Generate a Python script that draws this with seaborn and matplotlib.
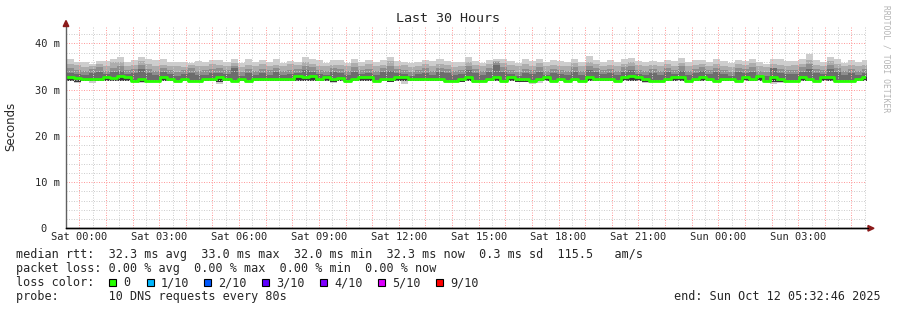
import numpy as np
import pandas as pd
import matplotlib
matplotlib.use("Agg")
import matplotlib.pyplot as plt
import seaborn as sns
from matplotlib.patches import Rectangle, Polygon
from matplotlib.lines import Line2D

# ---------------- data (ms) ----------------
# one value per 16-minute bin, starting Fri 23:32:46 (hours relative to Sat 00:00)
median_rtt = [
    32.7, 32.6, 32.3, 32.3, 32.3, 32.7, 32.4, 32.9, 32.7, 31.95, 32.3, 31.95, 31.95, 32.7, 32.3, 31.95, 32.3, 31.95, 31.95, 32.3,
    32.3, 32.7, 32.3, 31.95, 32.3, 31.95, 32.3, 32.3, 32.3, 32.3, 32.3, 32.35, 32.9, 32.75, 32.9, 32.3, 32.7, 32.3,
    32.5, 31.95, 32.3, 32.7, 32.7, 31.95, 32.3, 32.3, 32.75, 32.75, 32.3, 32.3, 32.3, 32.3, 32.3, 31.95, 31.95, 32.3, 32.7, 31.95,
    31.95, 32.3, 32.7, 31.95, 32.7, 32.3, 32.3, 31.95, 32.3, 32.7, 31.95, 32.3, 31.95, 32.3, 31.95, 32.7, 32.3, 32.3,
    32.3, 31.95, 32.7, 32.9, 32.7, 32.3, 31.95, 31.95, 32.3, 32.7, 32.7, 31.95, 32.3, 32.7, 32.3, 31.95, 32.3, 32.3, 31.95, 32.7,
    32.3, 33.0, 31.95, 32.7, 32.3, 31.95, 31.95, 32.7, 32.3, 31.95, 32.7, 32.7, 31.95, 31.95, 31.95, 32.3, 32.7,
]
ping_max = [
    36.6, 36.0, 36.0, 35.6, 36.2, 36.2, 36.6, 37.0, 36.0, 36.4, 37.1, 36.5, 36.3, 36.6, 36.0, 35.9, 35.9, 35.7, 36.2, 35.9,
    36.3, 36.4, 36.0, 36.6, 35.8, 36.5, 35.9, 36.3, 35.9, 36.5, 35.8, 36.2, 36.0, 37.1, 36.5, 36.3, 35.8, 36.4,
    36.3, 35.7, 36.7, 35.9, 36.4, 36.0, 36.3, 37.0, 36.2, 36.0, 35.7, 35.9, 36.3, 36.1, 36.5, 36.2, 35.9, 36.0, 37.0, 36.2,
    35.8, 36.4, 36.6, 36.6, 36.1, 35.8, 36.5, 36.2, 36.5, 35.9, 36.3, 36.1, 36.0, 36.6, 35.9, 37.2, 36.4, 36.0,
    36.3, 36.0, 36.6, 36.9, 36.1, 35.9, 36.2, 36.0, 36.4, 36.1, 36.9, 35.9, 36.3, 36.4, 36.0, 36.5, 36.1, 35.8, 36.4, 36.2,
    36.6, 36.0, 35.6, 36.5, 36.5, 36.1, 36.2, 36.6, 37.7, 36.3, 36.0, 37.0, 36.5, 35.8, 36.3, 36.0, 36.3,
]
ping_9 = [
    35.5, 35.3, 34.9, 35.0, 35.6, 35.2, 35.9, 36.0, 35.1, 35.4, 36.2, 35.6, 35.0, 35.3, 35.2, 35.0, 34.9, 35.4, 35.1, 35.0,
    35.5, 35.3, 35.2, 35.8, 34.9, 35.3, 35.0, 35.6, 35.1, 35.4, 35.0, 35.5, 35.3, 36.0, 35.6, 35.2, 35.0, 35.4,
    35.3, 35.0, 35.7, 35.1, 35.5, 35.0, 35.4, 36.1, 35.2, 35.4, 34.9, 35.1, 35.5, 35.0, 35.6, 35.3, 34.9, 35.2, 36.0, 35.4,
    35.0, 35.5, 36.2, 35.8, 35.3, 35.0, 35.6, 35.1, 35.7, 35.0, 35.4, 35.2, 35.1, 35.7, 35.0, 36.0, 35.5, 35.1,
    35.4, 35.1, 35.6, 35.9, 35.3, 35.0, 35.4, 35.1, 35.5, 35.2, 35.8, 35.0, 35.4, 35.6, 35.1, 35.6, 35.2, 34.9, 35.5, 35.3,
    35.7, 35.1, 34.8, 35.6, 35.4, 35.2, 35.3, 35.6, 36.4, 35.4, 35.1, 36.1, 35.6, 35.0, 35.3, 35.1, 35.4,
]
ping_8 = [
    34.6, 34.2, 34.0, 34.4, 34.8, 34.1, 34.6, 35.2, 34.3, 34.5, 35.3, 34.4, 34.1, 34.6, 34.3, 33.9, 34.2, 34.6, 34.0, 34.2,
    34.5, 34.6, 34.3, 35.0, 33.9, 34.5, 34.0, 34.4, 34.2, 34.7, 34.1, 34.3, 34.5, 35.1, 34.8, 34.2, 34.0, 34.6,
    34.5, 34.0, 34.9, 34.2, 34.4, 34.0, 34.6, 35.0, 34.5, 34.2, 33.8, 34.2, 34.6, 34.1, 34.7, 34.4, 34.0, 34.3, 35.1, 34.5,
    34.1, 34.6, 35.9, 34.8, 34.2, 33.9, 34.5, 34.2, 34.8, 34.0, 34.4, 34.3, 34.1, 34.8, 34.1, 35.0, 34.6, 34.2,
    34.5, 34.0, 34.8, 35.1, 34.3, 34.1, 34.5, 34.0, 34.6, 34.3, 35.0, 34.0, 34.4, 34.9, 34.2, 34.6, 34.3, 33.9, 34.6, 34.4,
    34.8, 34.1, 33.8, 34.7, 34.5, 34.2, 34.3, 34.8, 35.6, 34.5, 34.2, 35.3, 34.6, 34.0, 34.4, 34.1, 34.5,
]
ping_7 = [
    33.6, 33.4, 33.1, 33.5, 33.7, 33.3, 33.9, 34.0, 33.4, 33.6, 34.4, 33.5, 33.2, 33.7, 33.3, 33.0, 33.4, 33.6, 33.1, 33.2,
    33.5, 33.6, 33.4, 34.6, 33.0, 33.6, 33.1, 33.5, 33.2, 33.8, 33.2, 33.4, 33.6, 34.2, 33.9, 33.3, 33.2, 33.7,
    33.5, 33.1, 33.9, 33.3, 33.6, 33.1, 33.7, 34.1, 33.6, 33.3, 32.9, 33.3, 33.6, 33.2, 33.8, 33.5, 33.1, 33.4, 34.3, 33.6,
    33.2, 33.7, 35.4, 33.9, 33.3, 33.0, 33.6, 33.3, 33.9, 33.1, 33.5, 33.4, 33.2, 33.9, 33.2, 34.2, 33.7, 33.3,
    33.6, 33.1, 33.9, 34.2, 33.4, 33.2, 33.6, 33.1, 33.7, 33.4, 34.1, 33.1, 33.5, 34.0, 33.3, 33.7, 33.4, 33.0, 33.7, 33.5,
    33.9, 33.2, 32.9, 34.6, 33.6, 33.3, 33.4, 33.9, 34.5, 33.6, 33.3, 34.4, 33.7, 33.1, 33.5, 33.2, 33.6,
]
ping_2 = [
    31.8, 31.7, 31.75, 31.8, 31.8, 31.8, 31.75, 31.8, 31.8, 31.75, 31.7, 31.8, 31.8, 31.8, 31.75, 31.8, 31.8, 31.75, 31.8, 31.8,
    31.8, 31.6, 31.8, 31.75, 31.8, 31.8, 31.8, 31.75, 31.8, 31.8, 31.8, 31.75, 31.8, 31.8, 31.75, 31.8, 31.8, 31.7,
    31.8, 31.75, 31.8, 31.8, 31.8, 31.75, 31.8, 31.7, 31.8, 31.8, 31.75, 31.8, 31.8, 31.8, 31.75, 31.8, 31.8, 31.7, 31.8, 31.8,
    31.75, 31.8, 31.8, 31.8, 31.75, 31.7, 31.7, 31.8, 31.8, 31.75, 31.8, 31.8, 31.8, 31.75, 31.8, 31.8, 31.8, 31.75,
    31.8, 31.8, 31.75, 31.8, 31.8, 31.7, 31.8, 31.8, 31.75, 31.8, 31.8, 31.8, 31.75, 31.8, 31.8, 31.8, 31.75, 31.8, 31.8, 31.8,
    31.75, 31.8, 31.8, 31.6, 31.7, 31.8, 31.8, 31.75, 31.8, 31.8, 31.8, 31.75, 31.8, 31.8, 31.8, 31.75, 31.8,
]
ping_min = [
    31.75, 31.4, 31.75, 31.5, 31.75, 31.75, 31.75, 31.75, 31.75, 31.75, 31.5, 31.75, 31.75, 31.75, 31.75, 31.75, 31.75, 31.75, 31.75, 31.75,
    31.75, 31.2, 31.75, 31.75, 31.75, 31.75, 31.75, 31.75, 31.75, 31.75, 31.75, 31.75, 31.75, 31.75, 31.75, 31.75, 31.75, 31.5,
    31.75, 31.75, 31.75, 31.75, 31.75, 31.75, 31.75, 31.75, 31.75, 31.3, 31.75, 31.75, 31.75, 31.75, 31.75, 31.75, 31.75, 31.75, 31.75, 31.4,
    31.75, 31.75, 31.75, 31.75, 31.75, 31.75, 31.75, 31.3, 31.5, 31.75, 31.75, 31.75, 31.75, 31.75, 31.75, 31.75, 31.75, 31.75,
    31.75, 31.75, 31.75, 31.75, 31.75, 31.5, 31.75, 31.75, 31.75, 31.75, 31.75, 31.75, 31.75, 31.75, 31.75, 31.75, 31.75, 31.75, 31.75, 31.75,
    31.75, 31.75, 31.75, 31.2, 31.5, 31.75, 31.75, 31.75, 31.75, 31.75, 31.75, 31.75, 31.75, 31.75, 31.75, 31.75, 31.75,
]

start_hour = -(27 * 60 + 14) / 3600.0      # Fri 23:32:46
end_hour = start_hour + 30.0               # Sun 05:32:46
bin_minutes = 16
tick_hours = [0, 3, 6, 9, 12, 15, 18, 21, 24, 27]
tick_labels = ["Sat 00:00", "Sat 03:00", "Sat 06:00", "Sat 09:00", "Sat 12:00",
               "Sat 15:00", "Sat 18:00", "Sat 21:00", "Sun 00:00", "Sun 03:00"]
y_ticks = [0, 10, 20, 30, 40]
y_labels = ["0  ", "10 m", "20 m", "30 m", "40 m"]

loss_labels = ["0", "1/10", "2/10", "3/10", "4/10", "5/10", "9/10"]
loss_colors = ["#26ff00", "#00b8ff", "#0059ff", "#5e00ff", "#7e00ff", "#dd00ff", "#ff0000"]

# ---------------- figure ----------------
sns.set_theme(style="white")
plt.rcParams["font.family"] = ["DejaVu Sans Mono", "DejaVu Sans"]

W, H = 897, 310
fig = plt.figure(figsize=(W / 100, H / 100), dpi=100)
fig.patch.set_facecolor("white")
ax_bottom = 228.3
ax_top = 26.5
ax = fig.add_axes([66 / W, (H - ax_bottom) / H, 800 / W, (ax_bottom - ax_top) / H])
ax.set_facecolor("white")

n = len(median_rtt)
t = [start_hour + i * bin_minutes / 60.0 for i in range(n)]
t_ext = t + [t[-1] + bin_minutes / 60.0]

def ext(a):
    return list(a) + [a[-1]]

layers = [
    (ping_min, ping_max, "#cdcdcd"),
    (ping_2, ping_9, "#adadad"),
    (ping_2, ping_8, "#8e8e8e"),
    (ping_2, ping_7, "#6c6c6c"),
    (ping_2, median_rtt, "#3a3a3a"),
]
for lo, hi, col in layers:
    ax.fill_between(t_ext, ext(lo), ext(hi), step="post", color=col, lw=0, zorder=1)

df = pd.DataFrame({"time": t_ext, "median": ext(median_rtt)})
sns.lineplot(data=df, x="time", y="median", drawstyle="steps-post",
             color="#26ff00", lw=2.0, ax=ax, zorder=4)

ax.set_xlim(start_hour, end_hour)
ax.set_ylim(0, (ax_bottom - ax_top) / 4.625)

# grid
major_x = list(range(0, 30))
minor_x = [h + 0.5 for h in range(-1, 30)]
ax.set_xticks(major_x)
ax.set_xticklabels([tick_labels[tick_hours.index(h)] if h in tick_hours else "" for h in major_x])
ax.set_xticks(minor_x, minor=True)
ax.set_yticks(y_ticks)
ax.set_yticklabels(y_labels)
ax.set_yticks([v for v in range(2, 44, 2) if v % 10 != 0], minor=True)
ax.tick_params(which="both", length=0)
ax.tick_params(axis="x", pad=3, labelsize=7.5)
ax.tick_params(axis="y", pad=4.3, labelsize=7.5)
ax.set_axisbelow(False)
ax.grid(which="major", color="#ff9c9c", lw=0.72, linestyle=(0, (1, 1.5)))
ax.grid(which="minor", color="#cfcfcf", lw=0.72, linestyle=(0, (1, 1.5)))
for gl in ax.get_xgridlines() + ax.get_ygridlines():
    gl.set_zorder(3)
ax.set_xlabel("")
ax.set_ylabel("")

for s in ["top", "right"]:
    ax.spines[s].set_visible(False)
ax.spines["left"].set_color("#606060")
ax.spines["left"].set_linewidth(1.0)
ax.spines["bottom"].set_color("#000000")
ax.spines["bottom"].set_linewidth(1.0)
for s in ["left", "bottom"]:
    ax.spines[s].set_zorder(5)

def px(x, y):
    return (x / W, 1 - y / H)

arrow_col = "#8b1a1a"
fig.add_artist(Line2D([66 / W, 868 / W], [1 - ax_bottom / H] * 2, color="black", lw=1.0))
fig.add_artist(Polygon([px(66, 20.5), px(63.2, 26.5), px(68.8, 26.5)], closed=True,
                       color=arrow_col, transform=fig.transFigure))
fig.add_artist(Polygon([px(874, ax_bottom), px(868, ax_bottom - 2.8), px(868, ax_bottom + 2.8)],
                       closed=True, color=arrow_col, transform=fig.transFigure))

# titles
fig.text(448 / W, 1 - 19 / H, "Last 30 Hours", ha="center", va="center", fontsize=9.6)
fig.text(11 / W, 1 - 126 / H, "Seconds", rotation=90, ha="center", va="center",
         fontsize=8.5, family=["DejaVu Sans"])
fig.text(886 / W, 1 - 5 / H, "RRDTOOL / TOBI OETIKER", rotation=-90, ha="center", va="top",
         fontsize=5.8, color="#b4b4b4")

# legend
fs = 8.5
fig.text(16 / W, 1 - 254.5 / H,
         "median rtt:  32.3 ms avg  33.0 ms max  32.0 ms min  32.3 ms now  0.3 ms sd  115.5   am/s",
         ha="left", va="center", fontsize=fs)
fig.text(16 / W, 1 - 268.5 / H,
         "packet loss: 0.00 % avg  0.00 % max  0.00 % min  0.00 % now",
         ha="left", va="center", fontsize=fs)
fig.text(16 / W, 1 - 282.5 / H, "loss color:", ha="left", va="center", fontsize=fs)
box_x = [109, 146.5, 204, 262, 320, 378, 436]
for bx, lab, col in zip(box_x, loss_labels, loss_colors):
    fig.add_artist(Rectangle((bx / W, 1 - 286 / H), 7 / W, 7 / H, facecolor=col,
                             edgecolor="black", lw=0.8, transform=fig.transFigure))
    fig.text((bx + 14.5) / W, 1 - 282.5 / H, lab, ha="left", va="center", fontsize=fs)
fig.text(16 / W, 1 - 296.5 / H, "probe:       10 DNS requests every 80s",
         ha="left", va="center", fontsize=fs)
fig.text(881 / W, 1 - 296.5 / H, "end: Sun Oct 12 05:32:46 2025",
         ha="right", va="center", fontsize=fs)

fig.savefig("out.png", dpi=100, facecolor="white")
